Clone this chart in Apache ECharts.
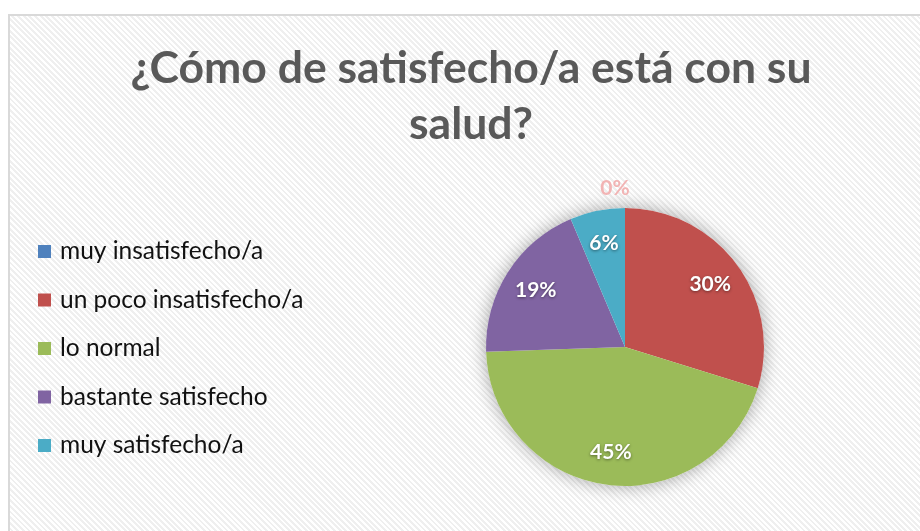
<!DOCTYPE html>
<html>
<head>
<meta charset="utf-8">
<script src="https://cdn.jsdelivr.net/npm/echarts@6/dist/echarts.min.js"></script>
<style>
  html, body { margin: 0; padding: 0; width: 920px; height: 531px; overflow: hidden; background: #fff; }
  #wrap {
    position: absolute; left: 8px; top: 14px; width: 926px; height: 530px;
    border-top: 2px solid #d9d9d9; border-left: 2px solid #d9d9d9; box-sizing: border-box;
    background: repeating-linear-gradient(45deg, #ffffff 0px, #ffffff 2px, #efefef 2px, #efefef 4px);
  }
  #chart { position: absolute; left: -2px; top: -2px; width: 926px; height: 530px; }
</style>
</head>
<body>
<div id="wrap"><div id="chart"></div></div>
<script>
const titleText = "¿Cómo de satisfecho/a está con su\nsalud?";
const categories = ["muy insatisfecho/a", "un poco insatisfecho/a", "lo normal", "bastante satisfecho", "muy satisfecho/a"];
const counts = [0, 14, 21, 9, 3];
const colors = ["#4f81bd", "#c0504d", "#9bbb59", "#8064a2", "#4bacc6"];

const FONT = "Lato, 'Open Sans', sans-serif";
const chart = echarts.init(document.getElementById('chart'), null, { renderer: 'canvas' });

const center = [617, 333];
const R = 139;

const mainData = categories.map((c, i) => ({
  name: c,
  value: counts[i],
  itemStyle: { color: colors[i] },
  label: i === 0 ? { show: true } : { show: false }
}));
const labelData = categories.map((c, i) => ({
  name: c,
  value: counts[i],
  label: { show: counts[i] > 0 }
}));

chart.setOption({
  animation: false,
  backgroundColor: 'transparent',
  title: {
    text: titleText,
    left: 'center',
    top: 27,
    padding: 0,
    textStyle: { fontFamily: FONT, fontWeight: 'bold', fontSize: 44.5, color: '#595959', lineHeight: 56 }
  },
  legend: {
    orient: 'vertical',
    left: 30,
    top: 225,
    padding: 0,
    itemWidth: 13,
    itemHeight: 13,
    itemGap: 23.5,
    icon: 'rect',
    data: categories,
    textStyle: { fontFamily: FONT, fontSize: 24.5, color: '#111', lineHeight: 24, padding: [0, 0, 0, 4] }
  },
  series: [
    {
      type: 'pie',
      silent: true,
      center: center,
      radius: R,
      z: 1,
      label: { show: false },
      labelLine: { show: false },
      itemStyle: { color: '#ffffff', shadowBlur: 18, shadowColor: 'rgba(0,0,0,0.35)' },
      data: [{ name: '_bg', value: 1 }],
      legendHoverLink: false
    },
    {
      type: 'pie',
      name: 'salud',
      center: center,
      radius: R,
      startAngle: 90,
      clockwise: true,
      avoidLabelOverlap: false,
      percentPrecision: 0,
      z: 2,
      itemStyle: { borderWidth: 0 },
      label: {
        position: 'outside',
        formatter: '{d}%',
        fontFamily: FONT, fontWeight: 'bold', fontSize: 21, color: '#f2b4b4'
      },
      labelLine: { show: false, length: 20, length2: 0 },
      labelLayout: function (p) { return p.dataIndex === 0 ? { align: 'center', dx: -5 } : {}; },
      data: mainData
    },
    {
      type: 'pie',
      name: 'labels',
      silent: true,
      center: center,
      radius: R * 1.48,
      startAngle: 90,
      clockwise: true,
      avoidLabelOverlap: false,
      percentPrecision: 0,
      legendHoverLink: false,
      z: 3,
      itemStyle: { color: 'rgba(0,0,0,0)' },
      label: {
        position: 'inside',
        formatter: '{d}%',
        fontFamily: FONT, fontWeight: 'bold', fontSize: 21, color: '#ffffff',
        textShadowColor: 'rgba(0,0,0,0.45)', textShadowBlur: 3, textShadowOffsetX: 0, textShadowOffsetY: 1
      },
      labelLine: { show: false },
      data: labelData
    }
  ]
});
</script>
</body>
</html>
